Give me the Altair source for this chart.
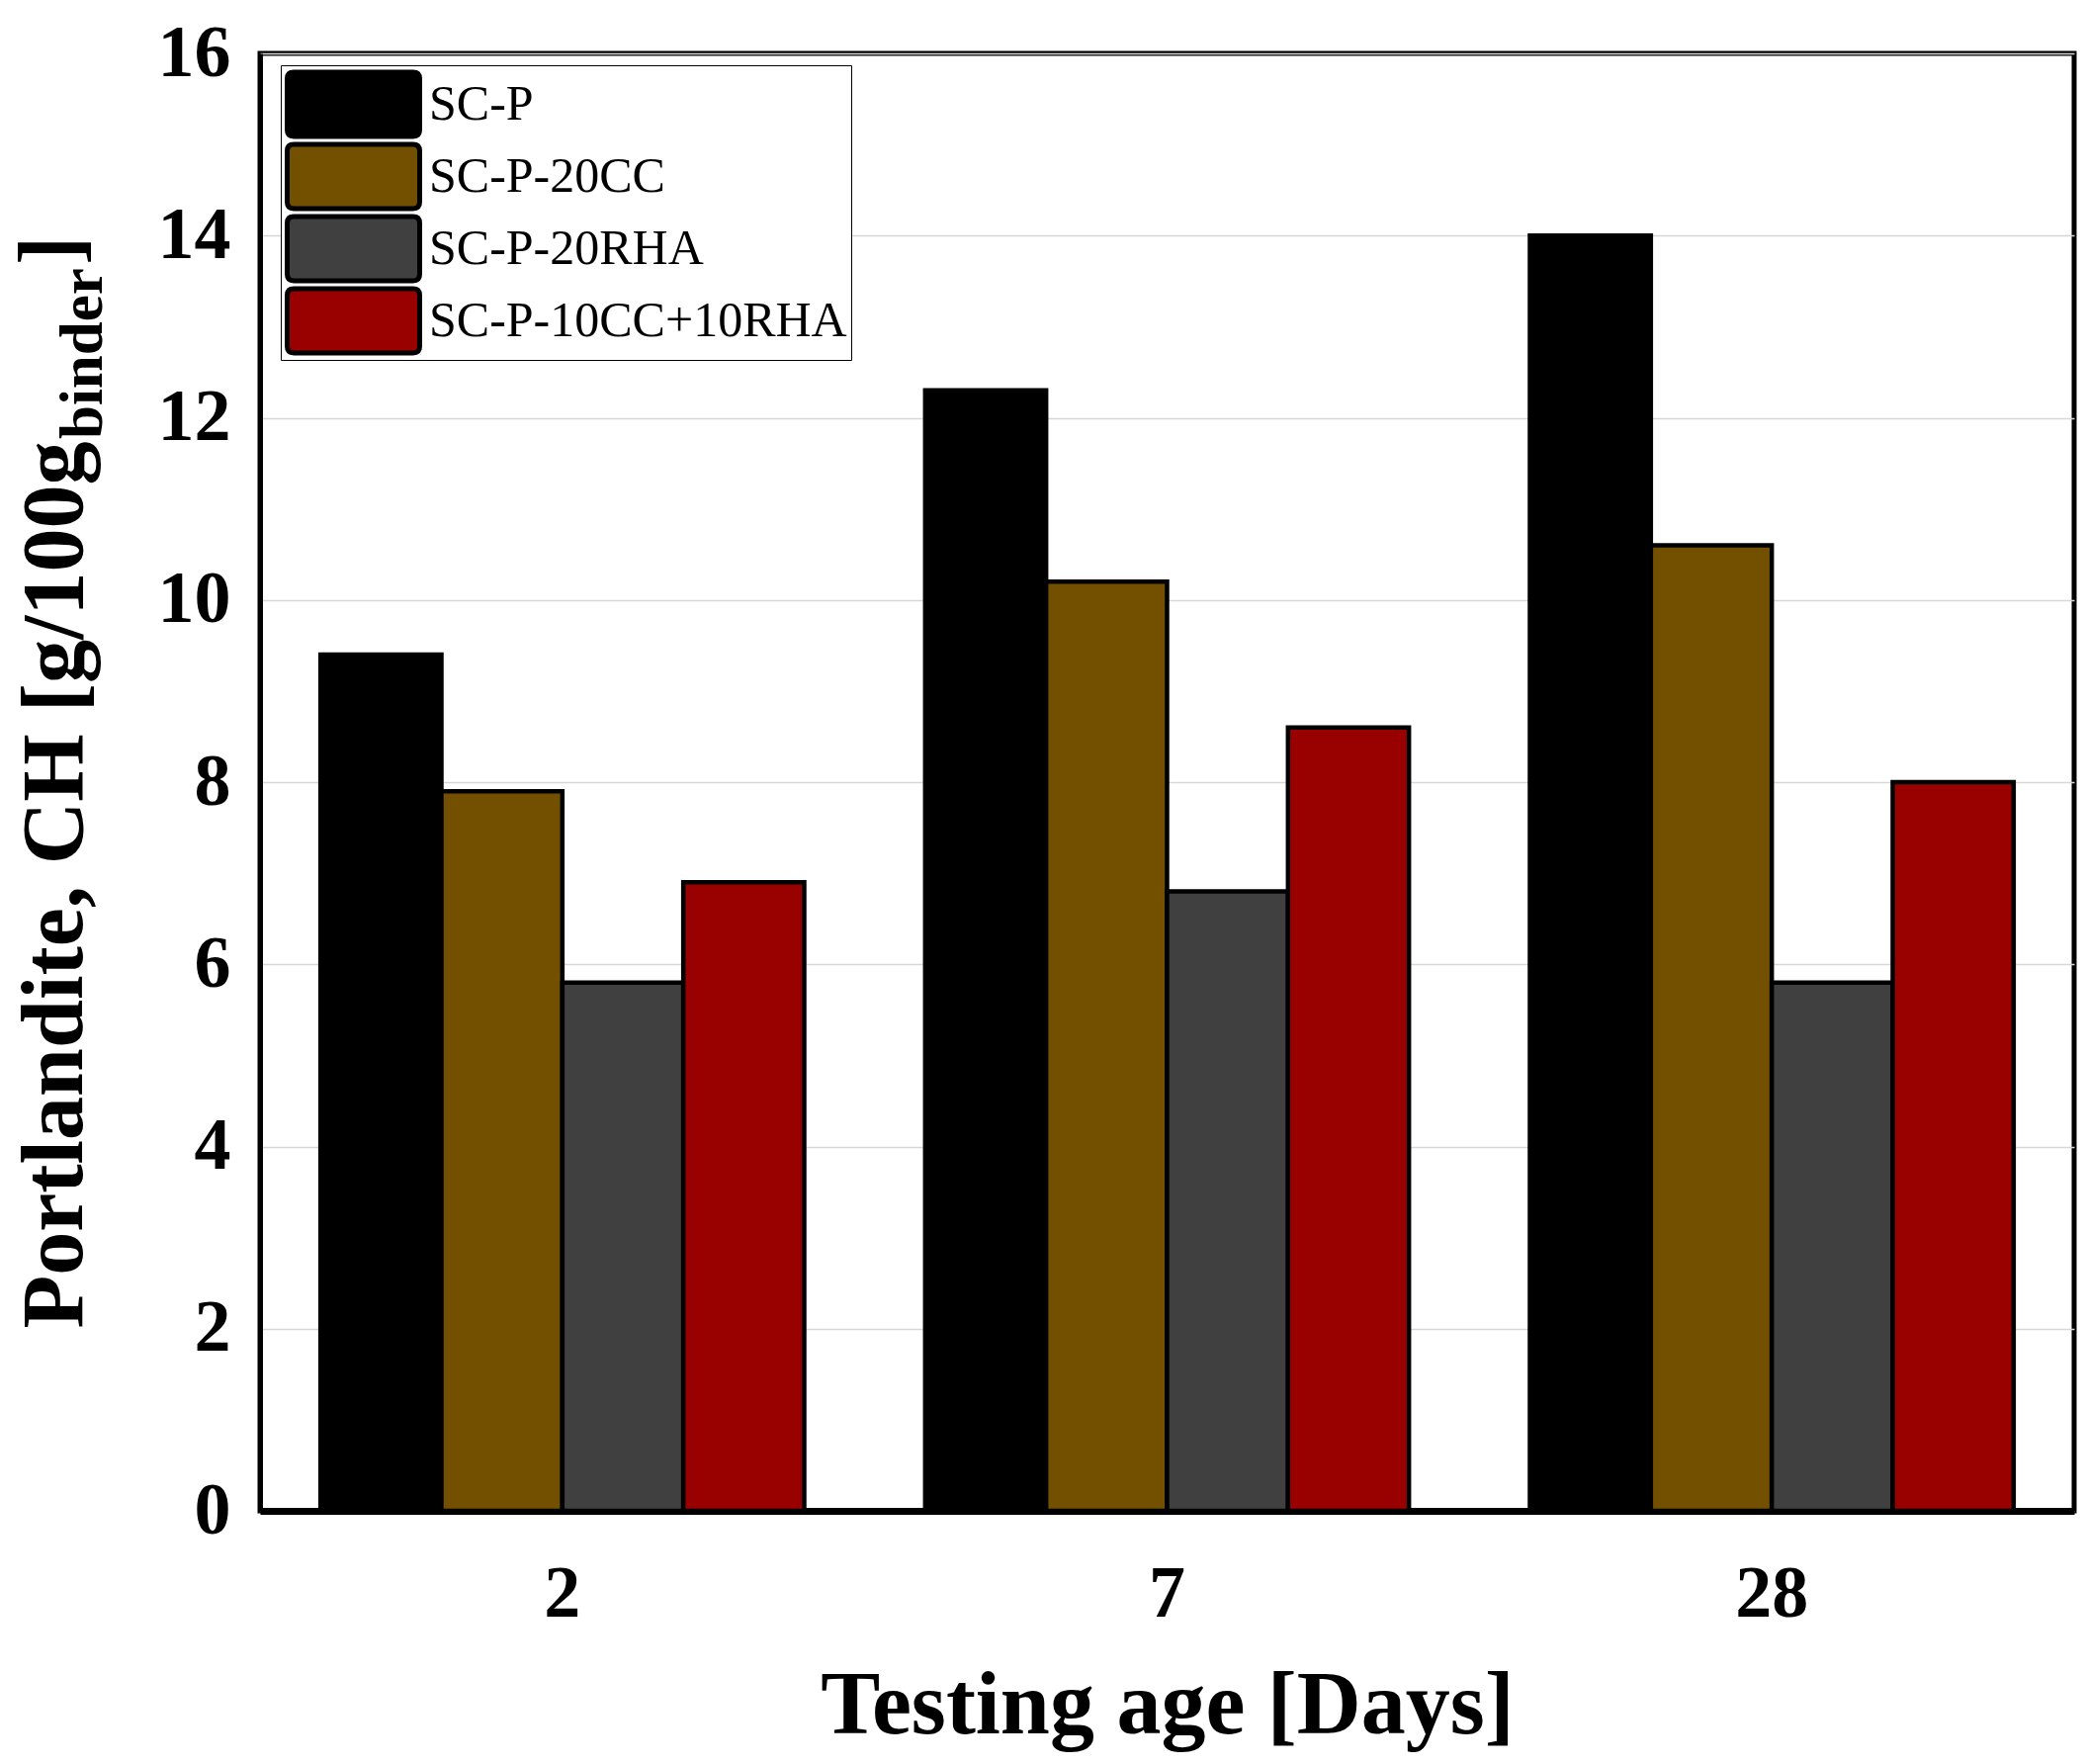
import altair as alt
import pandas as pd

# testing ages and mixes
days = ["2", "7", "28"]
mixes = ["SC-P", "SC-P-20CC", "SC-P-20RHA", "SC-P-10CC+10RHA"]
mix_colors = ["#000000", "#735000", "#404040", "#990000"]

# portlandite content per age [g/100g binder]
sc_p = [9.4, 12.3, 14.0]
sc_p_20cc = [7.9, 10.2, 10.6]
sc_p_20rha = [5.8, 6.8, 5.8]
sc_p_10cc_10rha = [6.9, 8.6, 8.0]

y_ticks = [0, 2, 4, 6, 8, 10, 12, 14, 16]

FONT = "Liberation Serif"

# rounded rectangle used as legend swatch
SWATCH = ("M-0.9,-0.485L0.9,-0.485Q1,-0.485 1,-0.385L1,0.385Q1,0.485 0.9,0.485"
          "L-0.9,0.485Q-1,0.485 -1,0.385L-1,-0.385Q-1,-0.485 -0.9,-0.485Z")

rows = []
for mix, vals in zip(mixes, [sc_p, sc_p_20cc, sc_p_20rha, sc_p_10cc_10rha]):
    for d, v in zip(days, vals):
        rows.append({"day": d, "mix": mix, "ch": v})
df = pd.DataFrame(rows)

bars = alt.Chart(df).mark_bar(stroke="black", strokeWidth=4.5).encode(
    x=alt.X("day:N", sort=days,
            scale=alt.Scale(paddingInner=0.2, paddingOuter=0.1),
            axis=alt.Axis(title="Testing age [Days]", labelAngle=0, ticks=False,
                          labelPadding=48, labelFontSize=74, labelFont=FONT,
                          labelFontWeight="bold", labelColor="black",
                          domainColor="black", domainWidth=7, grid=False,
                          titleFont=FONT, titleFontSize=90, titleFontWeight="bold",
                          titleColor="black", titleY=224, titleBaseline="alphabetic")),
    xOffset=alt.XOffset("mix:N", sort=mixes, scale=alt.Scale(paddingInner=0, paddingOuter=0)),
    y=alt.Y("ch:Q", scale=alt.Scale(domain=[0, 16], nice=False),
            axis=alt.Axis(values=y_ticks, ticks=False, labelPadding=30,
                          labelFontSize=74, labelFont=FONT, labelFontWeight="bold",
                          labelColor="black", domainColor="black", domainWidth=5,
                          grid=True, gridColor="#d6d6d6", gridWidth=1.5,
                          title="Portlandite, CH [g/100g", titleFont=FONT,
                          titleFontSize=88, titleFontWeight="bold", titleColor="black",
                          titleAngle=270, titleAlign="right", titleBaseline="alphabetic",
                          titleX=-181, titleY=392)),
    color=alt.Color("mix:N", sort=mixes,
                    scale=alt.Scale(domain=mixes, range=mix_colors),
                    legend=alt.Legend(title=None, orient="none", legendX=21, legendY=12,
                                      symbolType=SWATCH, symbolSize=17956,
                                      symbolStrokeColor="black", symbolStrokeWidth=5,
                                      symbolOpacity=1, clipHeight=71,
                                      labelFont=FONT, labelFontSize=50, labelColor="black",
                                      labelOffset=7, labelLimit=0, rowPadding=2,
                                      padding=4, strokeColor="black", fillColor="white")),
)

sub = alt.Chart(pd.DataFrame({"t": ["binder"]})).mark_text(
    angle=270, align="left", baseline="alphabetic", font=FONT, fontSize=61,
    fontWeight="bold", color="black"
).encode(x=alt.value(-160), y=alt.value(390), text="t:N")

bracket = alt.Chart(pd.DataFrame({"t": ["]"]})).mark_text(
    angle=270, align="left", baseline="alphabetic", font=FONT, fontSize=88,
    fontWeight="bold", color="black"
).encode(x=alt.value(-183), y=alt.value(214), text="t:N")

chart = alt.layer(bars, sub, bracket).properties(
    width=1835, height=1474,
    padding={"left": 255, "top": 46, "right": 3, "bottom": 248},
    autosize=alt.AutoSizeParams(type="none"),
).configure_view(stroke="black", strokeWidth=5)

chart.save("out.html", embed_options={"renderer": "svg", "actions": False})
